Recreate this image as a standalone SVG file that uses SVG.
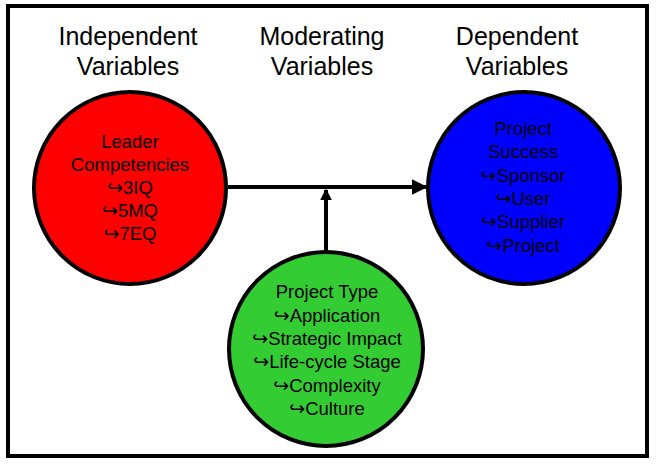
<svg xmlns="http://www.w3.org/2000/svg" width="658" height="469" viewBox="0 0 658 469">
<defs>
<style>
.hdr{font-family:"Liberation Sans",Arial,sans-serif;font-size:25px;fill:#000;text-anchor:middle}
.t{font-family:"Liberation Sans",Arial,sans-serif;font-size:18.5px;fill:#000;text-anchor:middle}
.b{font-family:"DejaVu Sans",sans-serif;font-size:19px}
.node{stroke:#000;stroke-width:4}
.conn{stroke:#000;stroke-width:4;fill:none}
</style>
<marker id="ah" markerWidth="4" markerHeight="4" refX="3.6" refY="2" orient="auto" markerUnits="strokeWidth">
<path d="M0,0 L4,2 L0,4 Z" fill="#000"/>
</marker>
<marker id="ah2" markerWidth="3" markerHeight="3" refX="2.6" refY="1.5" orient="auto" markerUnits="strokeWidth">
<path d="M0,0 L3,1.5 L0,3 Z" fill="#000"/>
</marker>
</defs>
<rect x="0" y="0" width="658" height="469" fill="#fff"/>
<rect x="8" y="6" width="639" height="450" fill="#fff" stroke="#000" stroke-width="4"/>
<g id="headers">
<text class="hdr" x="128" y="45">Independent</text>
<text class="hdr" x="128" y="75">Variables</text>
<text class="hdr" x="322" y="45">Moderating</text>
<text class="hdr" x="322" y="75">Variables</text>
<text class="hdr" x="517" y="45">Dependent</text>
<text class="hdr" x="517" y="75">Variables</text>
</g>
<g id="connectors">
<line class="conn" x1="228" y1="187" x2="426" y2="187" marker-end="url(#ah)"/>
<line class="conn" x1="326" y1="251" x2="326" y2="190" marker-end="url(#ah2)"/>
</g>
<g id="independent">
<circle class="node" cx="130" cy="188" r="96" fill="#ff0000"/>
<text class="t" x="130" y="148">Leader</text>
<text class="t" x="130" y="171">Competencies</text>
<text class="t" x="130" y="194"><tspan class="b">↪</tspan>3IQ</text>
<text class="t" x="130" y="217"><tspan class="b">↪</tspan>5MQ</text>
<text class="t" x="130" y="240"><tspan class="b">↪</tspan>7EQ</text>
</g>
<g id="dependent">
<circle class="node" cx="524" cy="188" r="96" fill="#0000ff"/>
<text class="t" x="523" y="135">Project</text>
<text class="t" x="523" y="158">Success</text>
<text class="t" x="523" y="182"><tspan class="b">↪</tspan>Sponsor</text>
<text class="t" x="523" y="205"><tspan class="b">↪</tspan>User</text>
<text class="t" x="523" y="228"><tspan class="b">↪</tspan>Supplier</text>
<text class="t" x="523" y="252"><tspan class="b">↪</tspan>Project</text>
</g>
<g id="moderating">
<circle class="node" cx="326" cy="349" r="97" fill="#33cc33"/>
<text class="t" x="327" y="298">Project Type</text>
<text class="t" x="327" y="322"><tspan class="b">↪</tspan>Application</text>
<text class="t" x="327" y="345"><tspan class="b">↪</tspan>Strategic Impact</text>
<text class="t" x="327" y="368"><tspan class="b">↪</tspan>Life-cycle Stage</text>
<text class="t" x="327" y="392"><tspan class="b">↪</tspan>Complexity</text>
<text class="t" x="327" y="415"><tspan class="b">↪</tspan>Culture</text>
</g>
</svg>
